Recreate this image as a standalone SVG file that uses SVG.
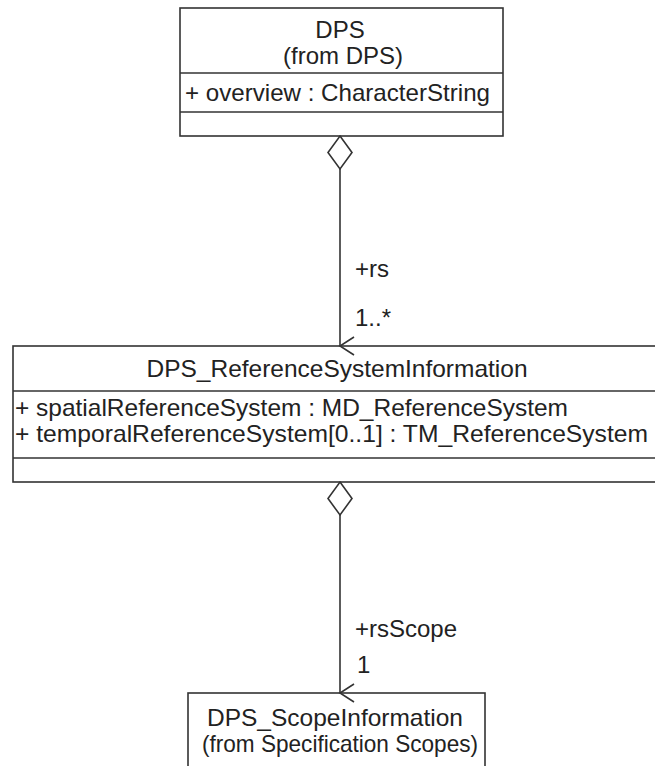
<svg xmlns="http://www.w3.org/2000/svg" width="655" height="766" viewBox="0 0 655 766">
<defs>
<style>
.box{fill:#fff;stroke:#333;stroke-width:1.6}
.sep{stroke:#333;stroke-width:1.6}
text{font-family:"Liberation Sans",Arial,sans-serif;font-size:24px;fill:#222}
.c{text-anchor:middle}
.con{stroke:#333;stroke-width:1.6;fill:none}
.dia{fill:#fff;stroke:#333;stroke-width:1.6}
</style>
<marker id="open" viewBox="0 0 20 20" refX="10" refY="18" markerWidth="20" markerHeight="20" markerUnits="userSpaceOnUse" orient="auto-start-reverse">
<path d="M1,4 L10,18 L19,4" fill="none" stroke="#333" stroke-width="1.6"/>
</marker>
</defs>
<rect width="655" height="766" fill="#fff"/>
<g id="dps">
<rect class="box" x="180" y="8" width="323" height="128"/>
<line class="sep" x1="180" y1="73" x2="503" y2="73"/>
<line class="sep" x1="180" y1="112" x2="503" y2="112"/>
<text class="c" x="340" y="38">DPS</text>
<text class="c" x="343" y="64">(from DPS)</text>
<text x="185" y="101" textLength="305" lengthAdjust="spacingAndGlyphs">+ overview : CharacterString</text>
</g>
<g id="refsys">
<rect class="box" x="13" y="346" width="660" height="136"/>
<line class="sep" x1="13" y1="391" x2="673" y2="391"/>
<line class="sep" x1="13" y1="458" x2="673" y2="458"/>
<text class="c" x="337" y="377" textLength="381" lengthAdjust="spacingAndGlyphs">DPS_ReferenceSystemInformation</text>
<text x="15" y="416" textLength="553" lengthAdjust="spacingAndGlyphs">+ spatialReferenceSystem : MD_ReferenceSystem</text>
<text x="15" y="442" textLength="633" lengthAdjust="spacingAndGlyphs">+ temporalReferenceSystem[0..1] : TM_ReferenceSystem</text>
</g>
<g id="scope">
<rect class="box" x="188" y="693" width="297" height="90"/>
<text class="c" x="335" y="726" textLength="256" lengthAdjust="spacingAndGlyphs">DPS_ScopeInformation</text>
<text class="c" x="340" y="752" textLength="276" lengthAdjust="spacingAndGlyphs">(from Specification Scopes)</text>
</g>
<g id="connectors">
<g id="c1">
<line class="con" x1="340" y1="169" x2="340" y2="346" marker-end="url(#open)"/>
<path class="dia" d="M340,136 L352,152.5 L340,169 L328,152.5 Z"/>
<text x="355" y="277">+rs</text>
<text x="355" y="326">1..*</text>
</g>
<g id="c2">
<line class="con" x1="340" y1="515" x2="340" y2="693" marker-end="url(#open)"/>
<path class="dia" d="M340,482 L352,498.5 L340,515 L328,498.5 Z"/>
<text x="355" y="637">+rsScope</text>
<text x="357" y="673">1</text>
</g>
</g>
</svg>
